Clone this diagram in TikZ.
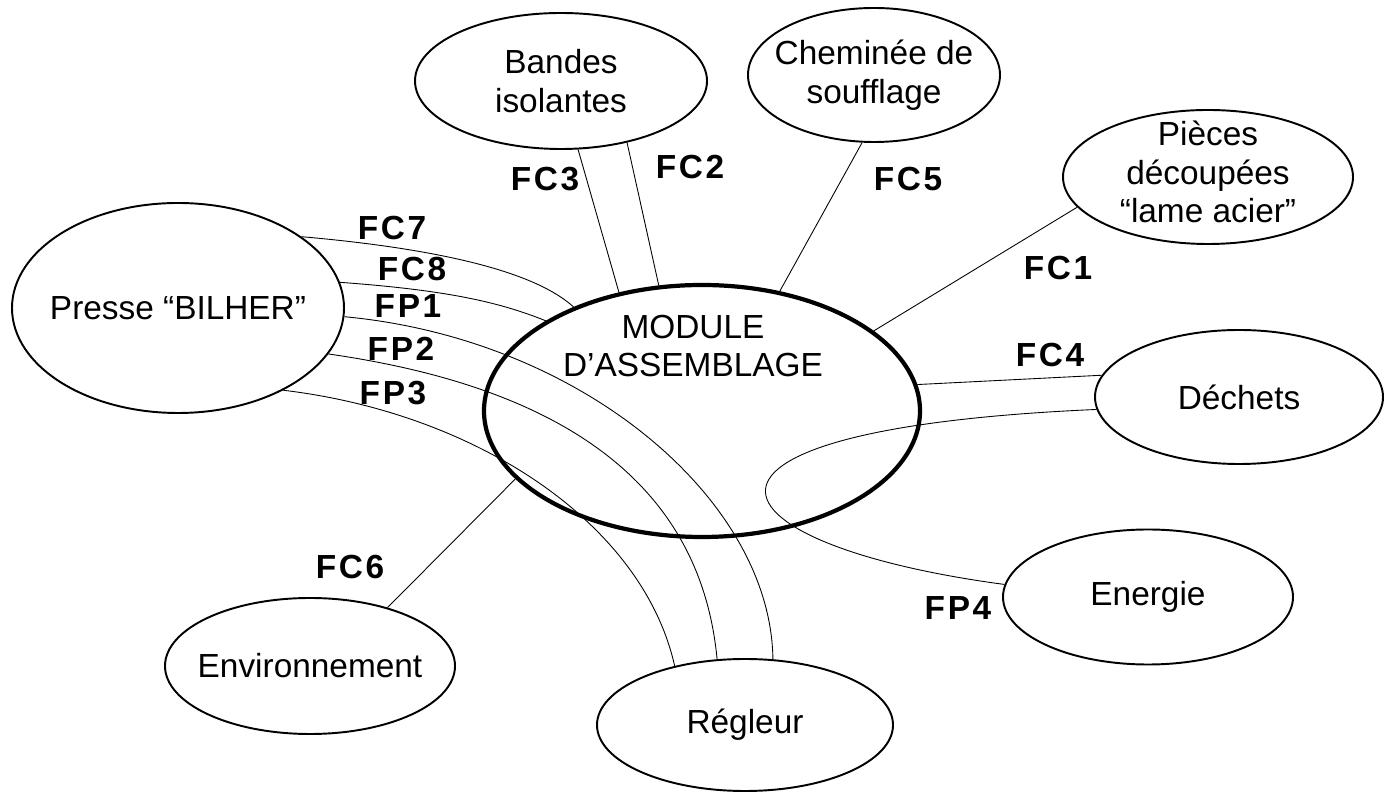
\documentclass[tikz,border=0pt]{standalone}
\usepackage{fontspec}
\setmainfont{Liberation Sans}
\usepackage{tikz}
\usetikzlibrary{shapes.geometric}

\tikzset{
  bulle/.style={ellipse, draw, line width=1.1pt, inner sep=0pt},
  lien/.style={line width=0.5pt},
  fonction/.style={inner sep=1pt, font=\bfseries\fontsize{19}{22.5}\selectfont\addfontfeatures{LetterSpace=8}},
  every label/.style={align=center, font=\fontsize{19}{22}\selectfont},
}

\begin{document}
\begin{tikzpicture}[x=1cm,y=1cm]
  \useasboundingbox (0,0) rectangle (27.8,15.88);

  \node[bulle, line width=2.4pt, minimum width=8.72cm, minimum height=5.04cm, label={[xshift=-0.18cm, yshift=1.3cm]center:MODULE\\D’ASSEMBLAGE}] (module) at (14.04,7.66) {};

  \node[bulle, minimum width=6.64cm, minimum height=4.2cm, label={center:Presse “BILHER”}] (presse) at (3.56,9.72) {};
  \node[bulle, minimum width=5.84cm, minimum height=2.72cm, label={center:Bandes\\isolantes}] (bandes) at (11.22,14.26) {};
  \node[bulle, minimum width=5.04cm, minimum height=2.68cm, label={center:Cheminée de\\soufflage}] (cheminee) at (17.48,14.38) {};
  \node[bulle, minimum width=5.8cm, minimum height=2.68cm, label={[yshift=0.1cm]center:Pièces\\découpées\\“lame acier”}] (pieces) at (24.16,12.34) {};
  \node[bulle, minimum width=5.76cm, minimum height=2.68cm, label={center:Déchets}] (dechets) at (24.78,7.94) {};
  \node[bulle, minimum width=5.8cm, minimum height=2.7cm, label={center:Energie}] (energie) at (22.96,3.94) {};
  \node[bulle, minimum width=5.92cm, minimum height=2.64cm, label={center:Régleur}] (regleur) at (14.9,1.38) {};
  \node[bulle, minimum width=5.8cm, minimum height=2.72cm, label={center:Environnement}] (environnement) at (6.2,2.56) {};

  \draw[lien] (presse.30) .. controls +(2.96,-0.26) and +(-0.72,0.66) .. (module.141);
  \draw[lien] (presse.9) .. controls +(2.2,-0.16) and +(-0.9,0.36) .. (module.150);
  \draw[lien] (presse.357) .. controls +(4.74,-0.44) and +(-0.04,3.2) .. (regleur.67);
  \draw[lien] (presse.343) .. controls +(4.2,-0.6) and +(-0.36,3.82) .. (regleur.113);
  \draw[lien] (presse.322) .. controls +(3.86,-0.46) and +(-0.64,2.86) .. (regleur.140);
  \draw[lien] (bandes.284) -- (module.125);
  \draw[lien] (bandes.317) -- (module.109);
  \draw[lien] (cheminee.260) -- (module.57);
  \draw[lien] (pieces.193) -- (module.25);
  \draw[lien] (module.7) -- (dechets.171);
  \draw[lien] (dechets.185) .. controls +(-9.2,-0.4) and +(-6.0,0.8) .. (energie.175);
  \draw[lien] (environnement.37) -- (module.200);

  \node[fonction] (fc7) at (7.84,11.32) {FC7};
  \node[fonction] (fc8) at (8.24,10.5) {FC8};
  \node[fonction] (fp1) at (8.16,9.76) {FP1};
  \node[fonction] (fp2) at (8.02,8.9) {FP2};
  \node[fonction] (fp3) at (7.86,8.02) {FP3};
  \node[fonction] (fc3) at (10.9,12.3) {FC3};
  \node[fonction] (fc2) at (13.8,12.54) {FC2};
  \node[fonction] (fc5) at (18.16,12.3) {FC5};
  \node[fonction] (fc1) at (21.16,10.52) {FC1};
  \node[fonction] (fc4) at (21.0,8.78) {FC4};
  \node[fonction] (fp4) at (19.16,3.72) {FP4};
  \node[fonction] (fc6) at (7.0,4.54) {FC6};
\end{tikzpicture}
\end{document}
